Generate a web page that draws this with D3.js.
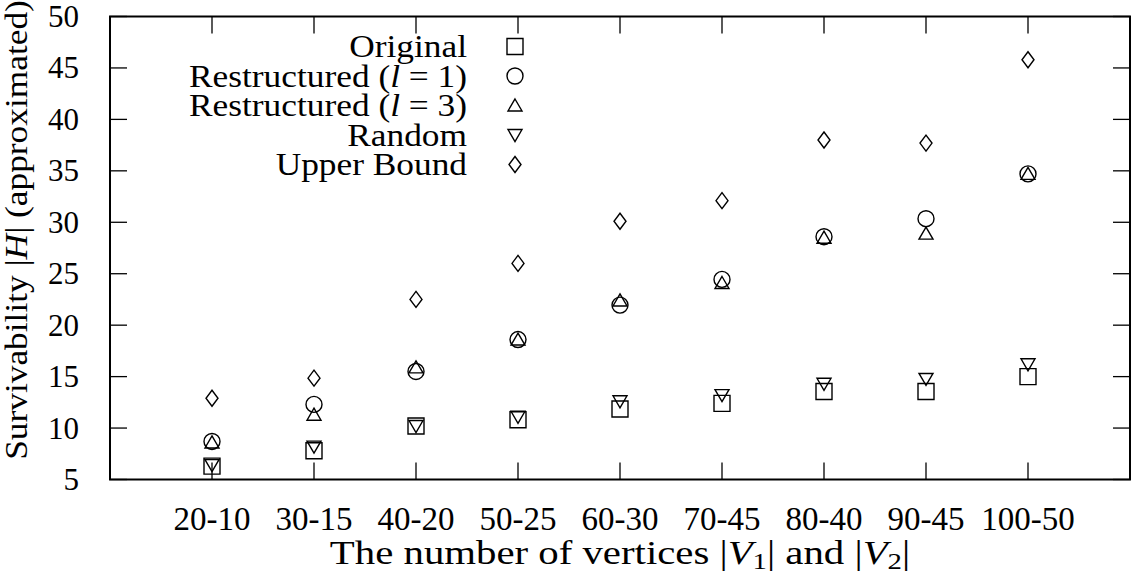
<!DOCTYPE html>
<html>
<head>
<meta charset="utf-8">
<script src="https://cdn.jsdelivr.net/npm/d3@7"></script>
<style>
  body { margin: 0; background: #fff; }
  svg text { font-family: "Liberation Serif", "Times New Roman", serif; fill: #000; }
</style>
</head>
<body>
<svg id="chart" width="1141" height="573"></svg>
<script>
// values
var categories = ["20-10", "30-15", "40-20", "50-25", "60-30", "70-45", "80-40", "90-45", "100-50"];
var original      = [6.3, 7.8, 10.2, 10.8, 11.85, 12.4, 13.55, 13.55, 15.0];
var restructured1 = [8.7, 12.3, 15.5, 18.6, 21.95, 24.45, 28.6, 30.35, 34.7];
var restructured3 = [8.6, 11.3, 15.9, 18.6, 22.4, 24.1, 28.5, 28.9, 34.7];
var random        = [6.4, 8.2, 10.2, 11.1, 12.6, 13.2, 14.3, 14.77, 16.2];
var upperBound    = [12.9, 14.85, 22.5, 26.0, 30.1, 32.1, 38.0, 37.7, 45.8];
var yTicks = [5, 10, 15, 20, 25, 30, 35, 40, 45, 50];

var series = [
  { name: "Original", values: original, shape: "square" },
  { name: "Restructured1", values: restructured1, shape: "circle" },
  { name: "Restructured3", values: restructured3, shape: "triangle" },
  { name: "Random", values: random, shape: "nabla" },
  { name: "Upper Bound", values: upperBound, shape: "diamond" }
];

(function () {
  var plotLeft = 110, plotRight = 1130, plotTop = 16.5, plotBottom = 479.5, tickLen = 17;
  var wordStretch = 'scale(1.14,1)'; // the original's serif is wider than Liberation Serif

  var svg = d3.select('#chart');

  var x = d3.scalePoint().domain(categories).range([plotLeft, plotRight]).padding(1);
  var y = d3.scaleLinear().domain([5, 50]).range([plotBottom, plotTop]);

  // marker outlines, centred on the data point
  var shapePath = function (shape) {
    var p = d3.path();
    if (shape === 'square') {
      p.rect(-8, -8, 16, 16);
    } else if (shape === 'circle') {
      p.arc(0, 0, 8, 0, 2 * Math.PI);
    } else if (shape === 'triangle') {
      p.moveTo(0, -6.5); p.lineTo(7, 5.5); p.lineTo(-7, 5.5); p.closePath();
    } else if (shape === 'nabla') {
      p.moveTo(-7, -5.5); p.lineTo(7, -5.5); p.lineTo(0, 6.5); p.closePath();
    } else {
      p.moveTo(0, -8); p.lineTo(6, 0); p.lineTo(0, 8); p.lineTo(-6, 0); p.closePath();
    }
    return p.toString();
  };

  // ticks on all four sides, pointing inward
  var tickG = svg.append('g').attr('stroke', '#000').attr('stroke-width', 1.3);
  tickG.selectAll('line.yl').data(yTicks).enter().append('line').attr('class', 'yl')
    .attr('x1', plotLeft).attr('x2', plotLeft + tickLen)
    .attr('y1', function (d) { return y(d); }).attr('y2', function (d) { return y(d); });
  tickG.selectAll('line.yr').data(yTicks).enter().append('line').attr('class', 'yr')
    .attr('x1', plotRight).attr('x2', plotRight - tickLen)
    .attr('y1', function (d) { return y(d); }).attr('y2', function (d) { return y(d); });
  tickG.selectAll('line.xb').data(categories).enter().append('line').attr('class', 'xb')
    .attr('x1', function (d) { return x(d); }).attr('x2', function (d) { return x(d); })
    .attr('y1', plotBottom).attr('y2', plotBottom - tickLen);
  tickG.selectAll('line.xt').data(categories).enter().append('line').attr('class', 'xt')
    .attr('x1', function (d) { return x(d); }).attr('x2', function (d) { return x(d); })
    .attr('y1', plotTop).attr('y2', plotTop + tickLen);

  svg.append('rect')
    .attr('x', plotLeft).attr('y', plotTop)
    .attr('width', plotRight - plotLeft).attr('height', plotBottom - plotTop)
    .attr('fill', 'none').attr('stroke', '#000').attr('stroke-width', 2);

  // tick labels
  svg.append('g').selectAll('text').data(yTicks).enter().append('text')
    .attr('x', 79).attr('y', function (d) { return y(d); })
    .attr('dy', '0.34em')
    .attr('text-anchor', 'end')
    .style('font-size', '31px')
    .text(function (d) { return d; });

  svg.append('g').selectAll('text').data(categories).enter().append('text')
    .attr('x', function (d) { return x(d); }).attr('y', 530)
    .attr('text-anchor', 'middle')
    .style('font-size', '33px')
    .text(function (d) { return d; });

  // axis titles
  var xt = svg.append('g')
    .attr('transform', 'translate(' + ((plotLeft + plotRight) / 2) + ',564) scale(1.2,1)')
    .append('text')
    .attr('text-anchor', 'middle')
    .style('font-size', '34px');
  xt.append('tspan').text('The number of vertices |');
  xt.append('tspan').style('font-style', 'italic').text('V');
  xt.append('tspan').attr('dy', 5).style('font-size', '24px').text('1');
  xt.append('tspan').attr('dy', -5).text('| and |');
  xt.append('tspan').style('font-style', 'italic').text('V');
  xt.append('tspan').attr('dy', 5).style('font-size', '24px').text('2');
  xt.append('tspan').attr('dy', -5).text('|');

  var yt = svg.append('g')
    .attr('transform', 'translate(27,230) rotate(-90) ' + wordStretch)
    .append('text')
    .attr('text-anchor', 'middle')
    .style('font-size', '31px');
  yt.append('tspan').text('Survivability |');
  yt.append('tspan').style('font-style', 'italic').text('H');
  yt.append('tspan').text('| (approximated)');

  // points
  series.forEach(function (s) {
    svg.append('g').selectAll('path').data(s.values).enter().append('path')
      .attr('transform', function (d, i) { return 'translate(' + x(categories[i]) + ',' + y(d) + ')'; })
      .attr('d', shapePath(s.shape))
      .attr('fill', 'none').attr('stroke', '#000').attr('stroke-width', 1.4);
  });

  // legend
  var legend = svg.append('g');
  var rowY = function (i) { return 46.5 + i * 29.5; };
  var labels = [
    [['Original', false]],
    [['Restructured (', false], ['l', true], [' = 1)', false]],
    [['Restructured (', false], ['l', true], [' = 3)', false]],
    [['Random', false]],
    [['Upper Bound', false]]
  ];
  series.forEach(function (s, i) {
    var t = legend.append('g')
      .attr('transform', 'translate(467,' + (rowY(i) + 10.5) + ') ' + wordStretch)
      .append('text')
      .attr('text-anchor', 'end')
      .style('font-size', '31px');
    labels[i].forEach(function (part) {
      t.append('tspan').style('font-style', part[1] ? 'italic' : 'normal').text(part[0]);
    });
    legend.append('path')
      .attr('transform', 'translate(515,' + rowY(i) + ')')
      .attr('d', shapePath(s.shape))
      .attr('fill', 'none').attr('stroke', '#000').attr('stroke-width', 1.4);
  });
})();
</script>
</body>
</html>
